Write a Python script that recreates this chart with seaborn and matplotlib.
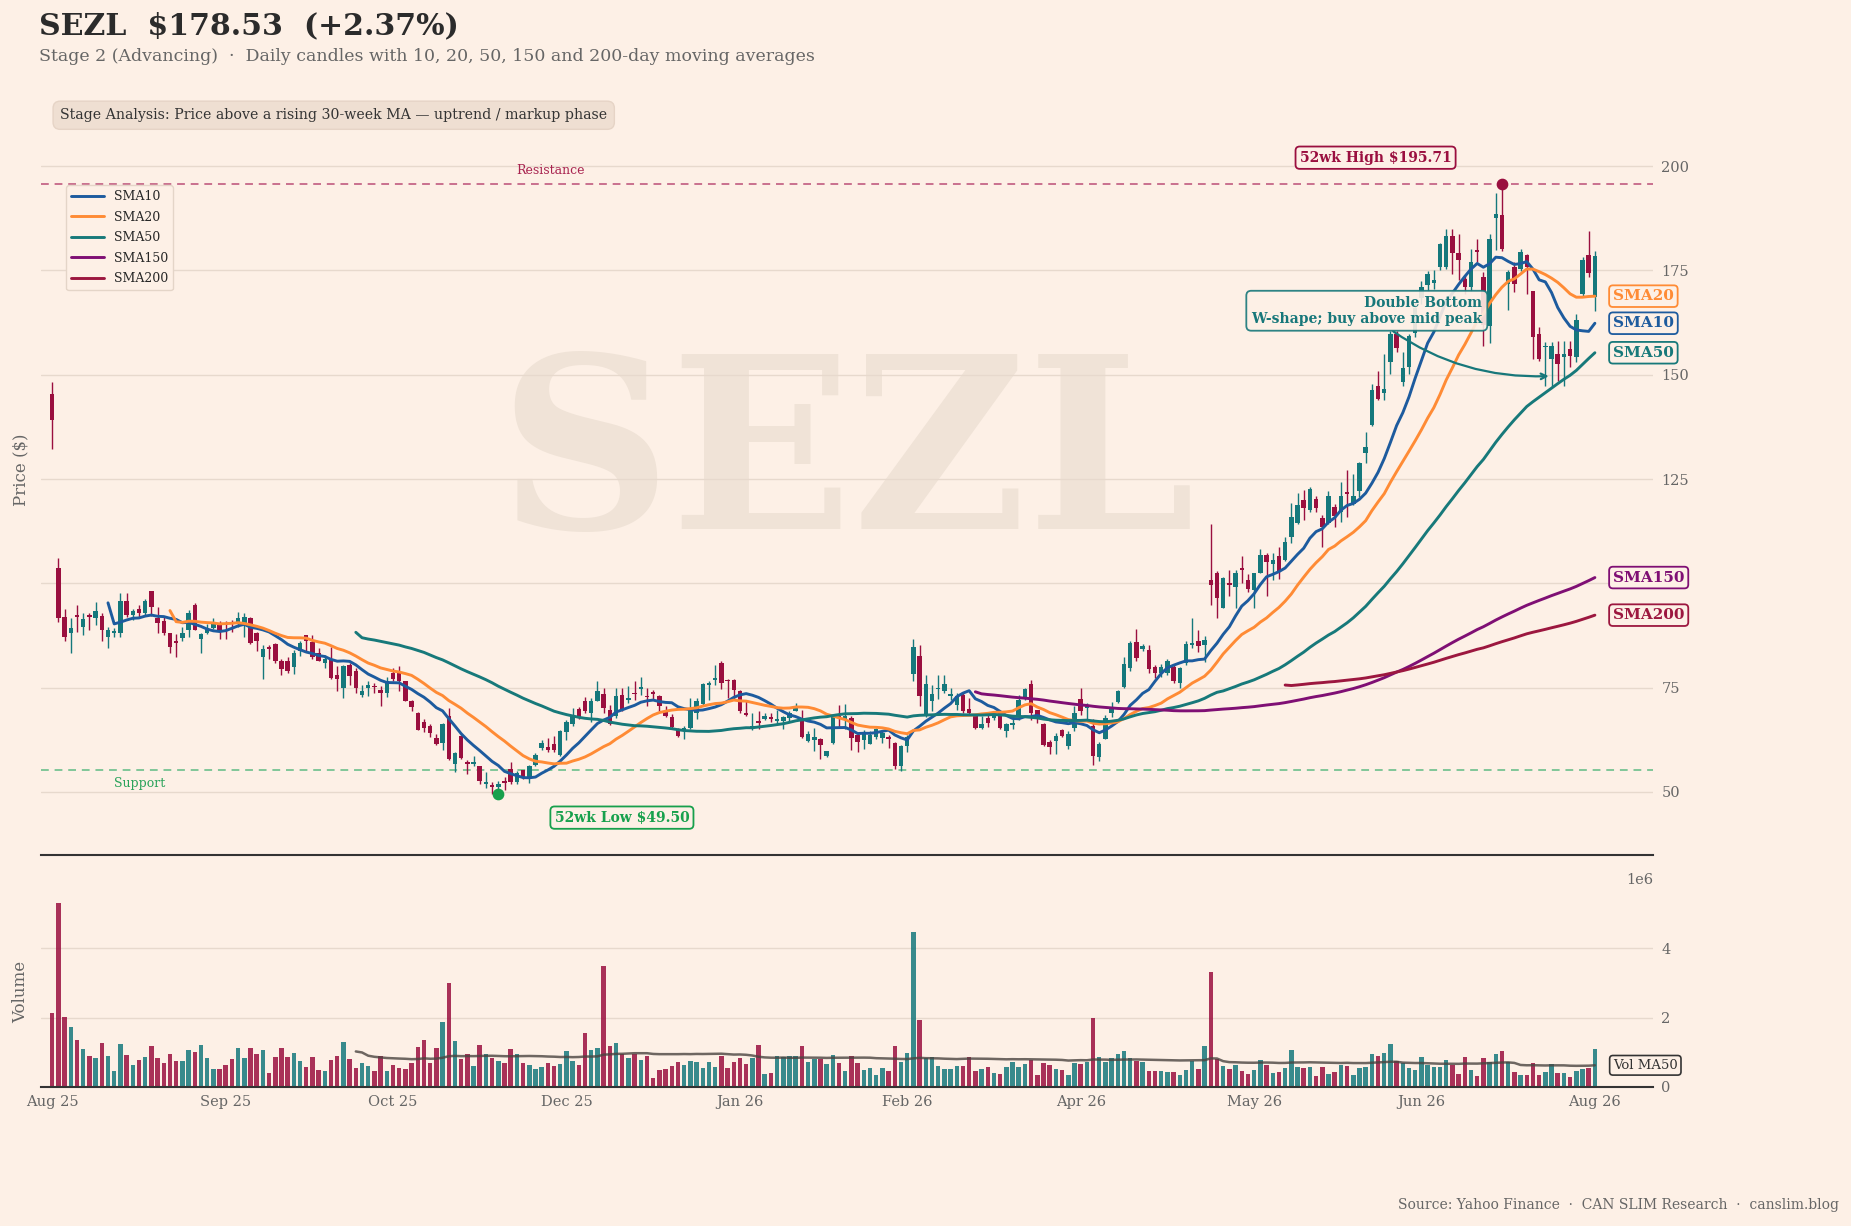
import numpy as np
import pandas as pd
import matplotlib
matplotlib.use("Agg")
import matplotlib.pyplot as plt
import matplotlib.transforms as mtransforms
from matplotlib.ticker import MultipleLocator, FixedLocator, FixedFormatter
import seaborn as sns

ticker = "SEZL"
stage = "Stage 2 (Advancing)"
stage_note = "Stage Analysis: Price above a rising 30-week MA \u2014 uptrend / markup phase"

# daily OHLC (one row of 10 bars per line)
opens = [
    145.5, 103.6, 92.0, 88.0, 92.4, 89.6, 92.4, 91.6, 92.2, 87.2,
    88.0, 88.0, 95.8, 92.3, 93.9, 92.8, 98.2, 91.8, 91.0, 88.0,
    86.2, 87.0, 88.7, 94.8, 86.6, 88.0, 89.2, 90.3, 90.4, 90.8,
    90.4, 90.4, 91.6, 88.0, 82.3, 84.8, 85.5, 81.4, 81.4, 79.9,
    83.7, 87.5, 86.0, 83.3, 81.0, 81.7, 78.1, 74.9, 80.5, 79.1,
    73.3, 74.9, 75.4, 74.5, 73.8, 78.6, 78.6, 76.5, 71.9, 68.9,
    66.7, 65.7, 62.9, 61.7, 68.1, 56.8, 63.5, 57.1, 56.8, 56.1,
    52.0, 51.5, 51.2, 52.6, 55.5, 52.3, 55.2, 53.6, 56.5, 60.5,
    60.8, 61.6, 58.9, 64.3, 66.3, 70.0, 71.9, 68.9, 71.9, 73.5,
    69.7, 68.2, 73.3, 72.1, 73.7, 74.6, 73.0, 73.8, 73.0, 69.3,
    67.9, 64.9, 64.7, 65.3, 68.9, 71.1, 75.6, 76.9, 81.0, 76.7,
    76.9, 74.3, 68.9, 65.5, 66.8, 67.5, 67.9, 66.9, 66.9, 67.7,
    69.5, 67.5, 62.1, 62.4, 62.7, 58.5, 61.7, 68.1, 67.3, 67.7,
    63.7, 62.4, 61.5, 63.2, 62.9, 63.1, 61.7, 56.3, 60.9, 78.3,
    82.6, 68.5, 71.9, 74.6, 74.1, 73.0, 70.9, 73.3, 69.8, 68.2,
    65.3, 67.7, 67.7, 68.9, 64.7, 66.1, 68.1, 72.2, 75.9, 69.6,
    66.3, 61.9, 62.1, 64.9, 60.9, 65.3, 72.2, 70.2, 65.8, 58.4,
    62.8, 69.0, 71.5, 75.1, 79.7, 85.9, 84.3, 84.1, 80.0, 78.6,
    78.6, 80.0, 76.0, 80.9, 85.2, 86.1, 85.2, 100.8, 102.6, 94.2,
    100.1, 99.2, 103.5, 100.8, 98.3, 102.6, 106.8, 104.7, 106.5, 105.6,
    111.1, 114.5, 120.0, 117.5, 120.3, 115.7, 114.5, 118.4, 117.2, 121.8,
    119.0, 122.1, 131.2, 137.9, 147.2, 145.6, 153.0, 159.8, 148.2, 151.8,
    160.0, 168.5, 171.4, 172.0, 175.8, 175.8, 183.3, 179.3, 173.0, 171.0,
    179.7, 173.4, 161.8, 187.6, 188.4, 171.8, 175.8, 175.4, 178.6, 170.0,
    159.8, 156.6, 153.8, 155.0, 154.2, 156.2, 154.2, 169.4, 178.8, 168.6,
]
highs = [
    148.2, 106.0, 93.8, 91.6, 94.8, 92.8, 93.0, 95.6, 92.8, 89.6,
    89.4, 97.8, 97.8, 93.8, 94.8, 96.2, 98.2, 94.4, 92.0, 88.2,
    87.8, 89.6, 93.5, 95.4, 88.0, 90.3, 91.6, 91.0, 91.0, 91.2,
    93.2, 93.0, 92.0, 88.4, 85.2, 85.2, 85.7, 81.8, 82.3, 84.1,
    86.3, 87.6, 87.6, 84.4, 82.9, 84.7, 80.2, 80.5, 80.9, 79.7,
    75.7, 76.5, 76.1, 75.4, 77.5, 79.7, 80.1, 76.7, 72.1, 69.1,
    67.5, 66.3, 64.0, 66.5, 70.1, 59.5, 63.7, 57.6, 58.7, 56.3,
    54.7, 52.3, 52.6, 53.6, 57.1, 54.9, 55.3, 56.5, 59.3, 62.4,
    62.9, 63.3, 64.9, 67.3, 70.1, 70.3, 72.7, 72.5, 76.5, 74.9,
    70.9, 74.9, 74.9, 75.3, 76.5, 77.5, 74.9, 74.5, 73.2, 70.5,
    68.7, 65.3, 65.7, 72.5, 72.5, 76.2, 76.5, 80.5, 81.4, 77.0,
    77.1, 74.5, 71.7, 69.0, 69.3, 69.0, 69.0, 69.7, 68.1, 69.3,
    71.4, 69.7, 64.7, 65.3, 62.9, 59.8, 68.7, 70.9, 71.1, 68.2,
    63.9, 64.9, 64.5, 65.3, 64.7, 63.7, 61.9, 61.3, 63.7, 86.6,
    85.2, 78.0, 75.7, 78.0, 78.0, 74.9, 73.8, 73.8, 72.5, 68.5,
    68.1, 68.5, 68.9, 69.0, 66.5, 68.5, 73.3, 74.9, 76.9, 69.7,
    66.5, 62.4, 64.1, 65.1, 64.5, 70.5, 74.9, 71.3, 67.5, 62.0,
    68.5, 71.5, 74.5, 82.3, 86.1, 89.1, 85.5, 85.2, 80.4, 80.6,
    81.8, 80.6, 80.0, 86.1, 91.6, 88.8, 87.3, 114.3, 102.9, 101.5,
    103.1, 103.3, 106.5, 102.2, 102.6, 108.3, 107.2, 107.2, 108.6, 111.1,
    119.3, 121.6, 122.4, 123.0, 120.9, 116.3, 122.1, 119.0, 124.2, 127.1,
    126.3, 129.1, 136.3, 147.7, 151.0, 155.0, 160.6, 160.6, 155.5, 159.8,
    167.5, 172.5, 174.8, 175.0, 181.5, 184.9, 184.9, 183.7, 173.8, 180.1,
    182.5, 174.6, 183.7, 193.5, 195.71, 175.0, 177.0, 180.1, 179.0, 170.2,
    161.4, 157.8, 157.8, 158.2, 158.2, 158.2, 164.6, 178.2, 184.5, 179.7,
]
lows = [
    132.1, 90.8, 86.3, 83.4, 88.4, 87.5, 88.7, 90.0, 86.3, 84.4,
    87.1, 87.2, 92.0, 91.1, 92.0, 92.4, 92.2, 88.0, 87.6, 83.4,
    82.3, 86.3, 87.1, 88.7, 83.4, 87.8, 89.0, 86.6, 86.6, 88.4,
    89.6, 87.2, 85.5, 83.7, 77.0, 81.8, 81.0, 78.1, 78.6, 78.3,
    82.5, 83.7, 81.8, 81.3, 79.7, 77.0, 74.1, 72.5, 75.7, 73.7,
    72.7, 73.0, 73.8, 70.5, 72.7, 76.5, 74.3, 71.7, 69.5, 64.8,
    64.3, 63.2, 61.3, 60.0, 57.6, 54.7, 57.9, 54.4, 56.3, 51.8,
    51.0, 49.6, 49.5, 50.4, 51.8, 51.8, 53.1, 52.2, 56.1, 60.0,
    59.5, 59.5, 58.5, 62.5, 65.8, 67.5, 68.9, 66.7, 71.7, 69.0,
    66.1, 67.7, 69.3, 71.3, 72.1, 73.3, 70.5, 72.1, 69.3, 67.9,
    65.3, 63.1, 62.7, 65.1, 67.4, 70.9, 72.1, 75.6, 74.6, 72.5,
    72.2, 69.0, 68.2, 64.9, 65.1, 67.3, 66.7, 66.3, 65.1, 66.7,
    69.3, 62.9, 61.9, 59.7, 57.9, 58.4, 61.5, 65.3, 65.1, 60.1,
    59.5, 60.3, 61.4, 62.7, 61.7, 60.5, 55.5, 54.9, 59.5, 76.5,
    70.6, 67.9, 69.3, 72.2, 73.7, 72.1, 69.7, 68.9, 68.5, 65.1,
    65.1, 65.5, 67.3, 65.1, 63.1, 65.1, 67.3, 72.1, 67.3, 66.5,
    61.1, 59.2, 59.2, 63.2, 60.3, 64.7, 68.5, 67.6, 56.5, 57.5,
    62.6, 68.0, 71.3, 74.9, 79.1, 81.3, 83.9, 78.6, 77.2, 77.5,
    78.1, 76.0, 74.9, 80.4, 84.5, 83.6, 81.2, 94.9, 91.6, 94.0,
    97.0, 94.0, 100.1, 98.0, 94.0, 102.4, 96.9, 100.8, 101.1, 105.3,
    109.7, 114.3, 115.2, 117.2, 117.2, 108.6, 114.3, 113.4, 114.7, 115.9,
    118.9, 120.7, 128.9, 137.6, 143.9, 144.0, 150.2, 155.5, 147.2, 150.3,
    159.0, 167.0, 170.2, 170.5, 175.0, 175.4, 174.2, 172.6, 169.4, 170.2,
    177.0, 156.8, 157.6, 180.0, 179.7, 165.6, 169.8, 174.8, 169.4, 153.8,
    153.4, 147.4, 147.0, 148.6, 147.4, 151.8, 153.0, 168.6, 173.4, 165.2,
]
closes = [
    139.1, 91.6, 87.2, 89.2, 92.0, 91.4, 91.9, 93.4, 88.7, 88.8,
    88.6, 95.8, 92.3, 93.4, 92.8, 95.8, 94.4, 90.4, 88.0, 84.8,
    85.8, 88.0, 93.0, 88.8, 87.9, 89.2, 90.3, 88.8, 90.0, 90.4,
    91.6, 91.9, 85.8, 86.3, 84.2, 84.2, 81.3, 79.4, 78.9, 83.3,
    85.6, 86.3, 82.3, 81.5, 81.8, 77.3, 77.0, 80.1, 77.8, 74.9,
    74.1, 75.7, 75.1, 73.8, 76.5, 77.0, 76.5, 71.9, 70.3, 64.9,
    65.3, 64.1, 61.6, 66.3, 57.9, 59.3, 58.1, 56.8, 57.1, 52.6,
    52.3, 51.2, 51.8, 52.2, 52.3, 54.5, 53.6, 56.3, 58.9, 61.7,
    60.1, 60.0, 64.5, 66.7, 68.2, 67.7, 69.3, 71.7, 74.1, 70.1,
    66.3, 73.0, 69.7, 72.3, 73.4, 75.1, 72.7, 73.5, 70.5, 68.1,
    65.5, 63.3, 65.3, 69.7, 71.9, 75.9, 76.0, 77.3, 76.2, 76.5,
    74.5, 69.3, 68.4, 65.9, 66.6, 68.2, 67.5, 67.5, 67.9, 69.0,
    70.3, 63.2, 63.9, 63.2, 61.3, 59.7, 67.9, 67.9, 68.1, 62.9,
    61.9, 63.9, 63.7, 65.1, 64.1, 62.7, 56.3, 60.9, 63.1, 84.7,
    72.9, 75.9, 73.5, 74.9, 75.9, 73.5, 72.9, 69.5, 69.0, 65.3,
    66.3, 66.6, 68.5, 65.3, 66.3, 66.5, 72.1, 74.6, 68.9, 68.5,
    61.3, 60.8, 63.5, 63.5, 63.9, 68.9, 69.5, 70.5, 58.6, 61.4,
    67.8, 70.4, 74.2, 80.6, 85.7, 82.1, 85.0, 79.5, 78.6, 80.0,
    81.5, 76.6, 79.7, 85.5, 85.7, 85.0, 86.4, 99.7, 96.4, 101.3,
    99.6, 102.6, 103.3, 98.6, 102.4, 106.8, 105.0, 105.6, 102.9, 109.9,
    116.0, 118.9, 118.1, 122.7, 118.1, 113.6, 120.9, 116.1, 120.9, 121.4,
    120.9, 128.9, 132.8, 146.3, 144.3, 146.6, 159.8, 156.5, 151.7, 159.4,
    166.0, 171.0, 174.2, 172.8, 181.3, 183.3, 179.3, 177.4, 171.0, 177.0,
    179.5, 162.0, 182.5, 188.5, 180.1, 174.6, 171.8, 179.5, 175.8, 159.0,
    153.8, 157.0, 157.0, 152.6, 155.0, 154.6, 163.2, 177.4, 174.40, 178.53,
]
# daily volume, millions of shares
volumes_m = [
    2.15, 5.32, 2.03, 1.72, 1.36, 1.10, 0.90, 0.84, 1.28, 0.90,
    0.46, 1.25, 0.93, 0.64, 0.78, 0.87, 1.19, 0.84, 0.70, 0.96,
    0.76, 0.76, 1.07, 1.02, 1.22, 0.84, 0.52, 0.52, 0.64, 0.81,
    1.13, 0.84, 1.13, 0.96, 1.07, 0.41, 0.87, 1.13, 0.87, 0.99,
    0.76, 0.58, 0.87, 0.49, 0.46, 0.78, 0.90, 1.31, 0.81, 0.55,
    0.70, 0.61, 0.46, 0.90, 0.46, 0.64, 0.55, 0.52, 0.70, 1.16,
    1.36, 0.70, 1.13, 1.89, 2.99, 1.34, 0.81, 0.96, 0.61, 1.22,
    0.96, 0.84, 0.76, 0.70, 1.10, 0.96, 0.70, 0.64, 0.52, 0.58,
    0.70, 0.61, 0.67, 1.05, 0.76, 0.64, 1.57, 1.07, 1.13, 3.49,
    1.19, 1.28, 0.96, 0.84, 0.96, 0.78, 0.90, 0.26, 0.49, 0.52,
    0.61, 0.73, 0.64, 0.76, 0.73, 0.55, 0.73, 0.58, 0.90, 0.55,
    0.73, 0.84, 0.67, 0.84, 1.22, 0.38, 0.41, 0.90, 0.87, 0.90,
    0.90, 1.19, 0.73, 0.81, 0.81, 0.67, 0.93, 0.70, 0.46, 0.90,
    0.70, 0.49, 0.55, 0.35, 0.55, 0.46, 1.19, 0.73, 0.99, 4.47,
    1.92, 0.84, 0.87, 0.61, 0.52, 0.52, 0.61, 0.61, 0.87, 0.46,
    0.52, 0.58, 0.41, 0.38, 0.58, 0.73, 0.58, 0.67, 0.78, 0.35,
    0.70, 0.64, 0.52, 0.49, 0.35, 0.70, 0.67, 0.73, 1.99, 0.87,
    0.73, 0.84, 0.96, 1.05, 0.84, 0.76, 0.73, 0.46, 0.46, 0.46,
    0.43, 0.43, 0.35, 0.49, 0.76, 0.52, 1.19, 3.31, 0.81, 0.61,
    0.52, 0.64, 0.46, 0.38, 0.49, 0.78, 0.64, 0.41, 0.43, 0.55,
    1.07, 0.58, 0.55, 0.58, 0.32, 0.58, 0.38, 0.43, 0.64, 0.61,
    0.35, 0.55, 0.58, 0.96, 0.90, 0.99, 1.25, 0.76, 0.70, 0.55,
    0.49, 0.87, 0.64, 0.58, 0.58, 0.78, 0.64, 0.38, 0.87, 0.49,
    0.32, 0.84, 0.73, 0.96, 1.05, 0.73, 0.43, 0.35, 0.35, 0.70,
    0.35, 0.43, 0.67, 0.41, 0.41, 0.29, 0.46, 0.52, 0.55, 1.09,
]
tick_labels = ["Aug 25", "Sep 25", "Oct 25", "Dec 25", "Jan 26",
               "Feb 26", "Apr 26", "May 26", "Jun 26", "Aug 26"]
sma_windows = [10, 20, 50, 150, 200]
support_level = 55.2
db_index, db_price = 242, 149.7   # double-bottom arrow target

BG = "#fdf0e6"
UP = "#15787c"
DOWN = "#9a0f3f"
SMA_COLORS = ["#1d5b9e", "#ff8b35", "#17797a", "#7f0f74", "#9c173f"]
TEAL_NOTE = "#17777a"
GREEN = "#17a04c"
GREY = "#666666"

df = pd.DataFrame({"open": opens, "high": highs, "low": lows,
                   "close": closes, "volume": np.array(volumes_m) * 1e6})
df["idx"] = np.arange(len(df))
n = len(df)
for w in sma_windows:
    df[f"SMA{w}"] = df["close"].rolling(w).mean()
df["VolMA50"] = df["volume"].rolling(50).mean()

sns.set_style("white")
plt.rcParams["font.family"] = ["DejaVu Serif"]

fig = plt.figure(figsize=(18.51, 12.26), dpi=100, facecolor=BG)
ax = fig.add_axes([0.0222, 0.3026, 0.8709, 0.597], facecolor=BG)
axv = fig.add_axes([0.0222, 0.1134, 0.8709, 0.1623], facecolor=BG, sharex=ax)

# watermark
ax.text(0.5, 0.535, ticker, transform=ax.transAxes, fontsize=172, fontweight="bold",
        color="#f0e3d7", ha="center", va="center", zorder=0)

# candles
up = df["close"] >= df["open"]
colors = np.where(up, UP, DOWN)
ax.vlines(df["idx"], df["low"], df["high"], colors=colors, lw=1.0, zorder=2)
body_lo = np.minimum(df["open"], df["close"])
body_h = np.maximum((df["close"] - df["open"]).abs(), 0.35)
ax.bar(df["idx"], body_h, bottom=body_lo, width=0.72, color=colors, lw=0, zorder=3)

# moving averages
for w, c in zip(sma_windows, SMA_COLORS):
    sns.lineplot(data=df, x="idx", y=f"SMA{w}", ax=ax, color=c, lw=2.1,
                 label=f"SMA{w}", zorder=4)

hi_i = int(df["high"].idxmax()); hi_v = df["high"].max()
lo_i = int(df["low"].idxmin()); lo_v = df["low"].min()
rng = hi_v - lo_v
ax.set_ylim(lo_v - 0.1 * rng, hi_v + 0.1 * rng)
ax.set_xlim(-1.8, n + 8.4)

# resistance / support
ax.axhline(hi_v, color="#c9708e", ls=(0, (4, 3)), lw=1.4, zorder=1.5)
ax.axhline(support_level, color="#80c698", ls=(0, (4, 3)), lw=1.4, zorder=1.5)
blend = mtransforms.blended_transform_factory(ax.transAxes, ax.transData)
ax.annotate("Resistance", xy=(0.316, hi_v), xycoords=blend, xytext=(0, 5),
            textcoords="offset points", ha="center", va="bottom",
            fontsize=9, color="#a8234f")
ax.annotate("Support", xy=(0.061, support_level), xycoords=blend, xytext=(0, -5),
            textcoords="offset points", ha="center", va="top",
            fontsize=9, color="#2aa35a")

# 52-week markers
ax.scatter([hi_i], [hi_v], s=55, color=DOWN, zorder=6)
ax.scatter([lo_i], [lo_v], s=55, color=GREEN, zorder=6)
ax.annotate(f"52wk High ${hi_v:.2f}", xy=(hi_i, hi_v), xytext=(-91, 19),
            textcoords="offset points", ha="center", va="center",
            fontsize=10, fontweight="bold", color=DOWN, zorder=8,
            bbox=dict(boxstyle="round,pad=0.3", fc=BG, ec=DOWN, lw=1.3))
ax.annotate(f"52wk Low ${lo_v:.2f}", xy=(lo_i, lo_v), xytext=(89, -17),
            textcoords="offset points", ha="center", va="center",
            fontsize=10, fontweight="bold", color=GREEN, zorder=8,
            bbox=dict(boxstyle="round,pad=0.3", fc=BG, ec=GREEN, lw=1.3))

# pattern note
ax.annotate("Double Bottom\nW-shape; buy above mid peak", xy=(db_index, db_price),
            xytext=(-133, 47), textcoords="offset points", ha="center", va="center",
            multialignment="right", fontsize=10, fontweight="bold", color=TEAL_NOTE,
            zorder=9,
            bbox=dict(boxstyle="round,pad=0.35", fc=BG, ec=TEAL_NOTE, lw=1.3, alpha=0.9),
            arrowprops=dict(arrowstyle="->", color=TEAL_NOTE, lw=1.6,
                            connectionstyle="arc3,rad=0.2", shrinkA=0, shrinkB=2))

# end-of-line labels
for w, c in zip(sma_windows, SMA_COLORS):
    last = df[f"SMA{w}"].iloc[-1]
    ax.annotate(f"SMA{w}", xy=(n - 1, last), xytext=(13, 0), textcoords="offset points",
                ha="left", va="center", fontsize=11, fontweight="bold", color=c,
                zorder=10, annotation_clip=False,
                bbox=dict(boxstyle="round,pad=0.25", fc=BG, ec=c, lw=1.3))

handles, labels = ax.get_legend_handles_labels()
ax.legend(handles, labels, loc="upper left", bbox_to_anchor=(0.0155, 0.915),
          borderaxespad=0, fontsize=9, frameon=True, facecolor=BG,
          edgecolor="#e4d5c8", framealpha=1, handlelength=2.6, labelspacing=0.6)

# volume panel
axv.bar(df["idx"], df["volume"], width=0.72, color=colors, alpha=0.85, lw=0, zorder=2)
sns.lineplot(data=df, x="idx", y="VolMA50", ax=axv, color="#4a4440", lw=1.8,
             alpha=0.8, zorder=3)
axv.annotate("Vol MA50", xy=(n - 1, df["VolMA50"].iloc[-1]), xytext=(13, 0),
             textcoords="offset points", ha="left", va="center", fontsize=9.5,
             color="#333333", zorder=10, annotation_clip=False,
             bbox=dict(boxstyle="round,pad=0.25", fc=BG, ec="#333333", lw=1.2))
axv.set_ylim(0, df["volume"].max() * 1.08)
axv.yaxis.set_major_locator(FixedLocator([0, 2e6, 4e6]))

# axes styling
for a in (ax, axv):
    for s in ("top", "left", "right"):
        a.spines[s].set_visible(False)
    a.spines["bottom"].set_color("#333333")
    a.spines["bottom"].set_linewidth(1.5)
    a.yaxis.tick_right()
    a.set_axisbelow(True)
    a.yaxis.grid(True, color="#e7d9cd", lw=1.0)
    a.xaxis.grid(False)
    a.tick_params(axis="both", length=0, labelsize=10.5, labelcolor=GREY, pad=6)
    a.set_xlabel("")

ax.yaxis.set_major_locator(MultipleLocator(25))
ax.tick_params(axis="x", labelbottom=False)
ticks = np.linspace(0, n - 1, len(tick_labels)).round().astype(int)
axv.xaxis.set_major_locator(FixedLocator(ticks))
axv.xaxis.set_major_formatter(FixedFormatter(tick_labels))
axv.yaxis.get_offset_text().set(color=GREY, fontsize=10.5)

ax.set_ylabel("Price ($)", fontsize=12, color=GREY)
ax.yaxis.set_label_coords(-0.0075, 0.526)
axv.set_ylabel("Volume", fontsize=12, color=GREY)
axv.yaxis.set_label_coords(-0.0075, 0.477)

# titles
chg = (closes[-1] / closes[-2] - 1) * 100
fig.text(0.021, 0.979, f"{ticker}  ${closes[-1]:.2f}  ({chg:+.2f}%)", fontsize=21.6,
         fontweight="bold", color="#2b2b2b", va="center", ha="left")
fig.text(0.021, 0.954, f"{stage}  \u00b7  Daily candles with 10, 20, 50, 150 and 200-day moving averages",
         fontsize=12.5, color=GREY, va="center", ha="left")
fig.text(0.0325, 0.906, stage_note, fontsize=10.2, color="#333333", va="center", ha="left",
         bbox=dict(boxstyle="round,pad=0.5", fc="#efdfd2", ec="#e6d4c6", lw=1))
fig.text(0.9935, 0.017, "Source: Yahoo Finance  \u00b7  CAN SLIM Research  \u00b7  canslim.blog",
         fontsize=10, color=GREY, ha="right", va="center")

fig.savefig("out.png", dpi=100, facecolor=BG)
